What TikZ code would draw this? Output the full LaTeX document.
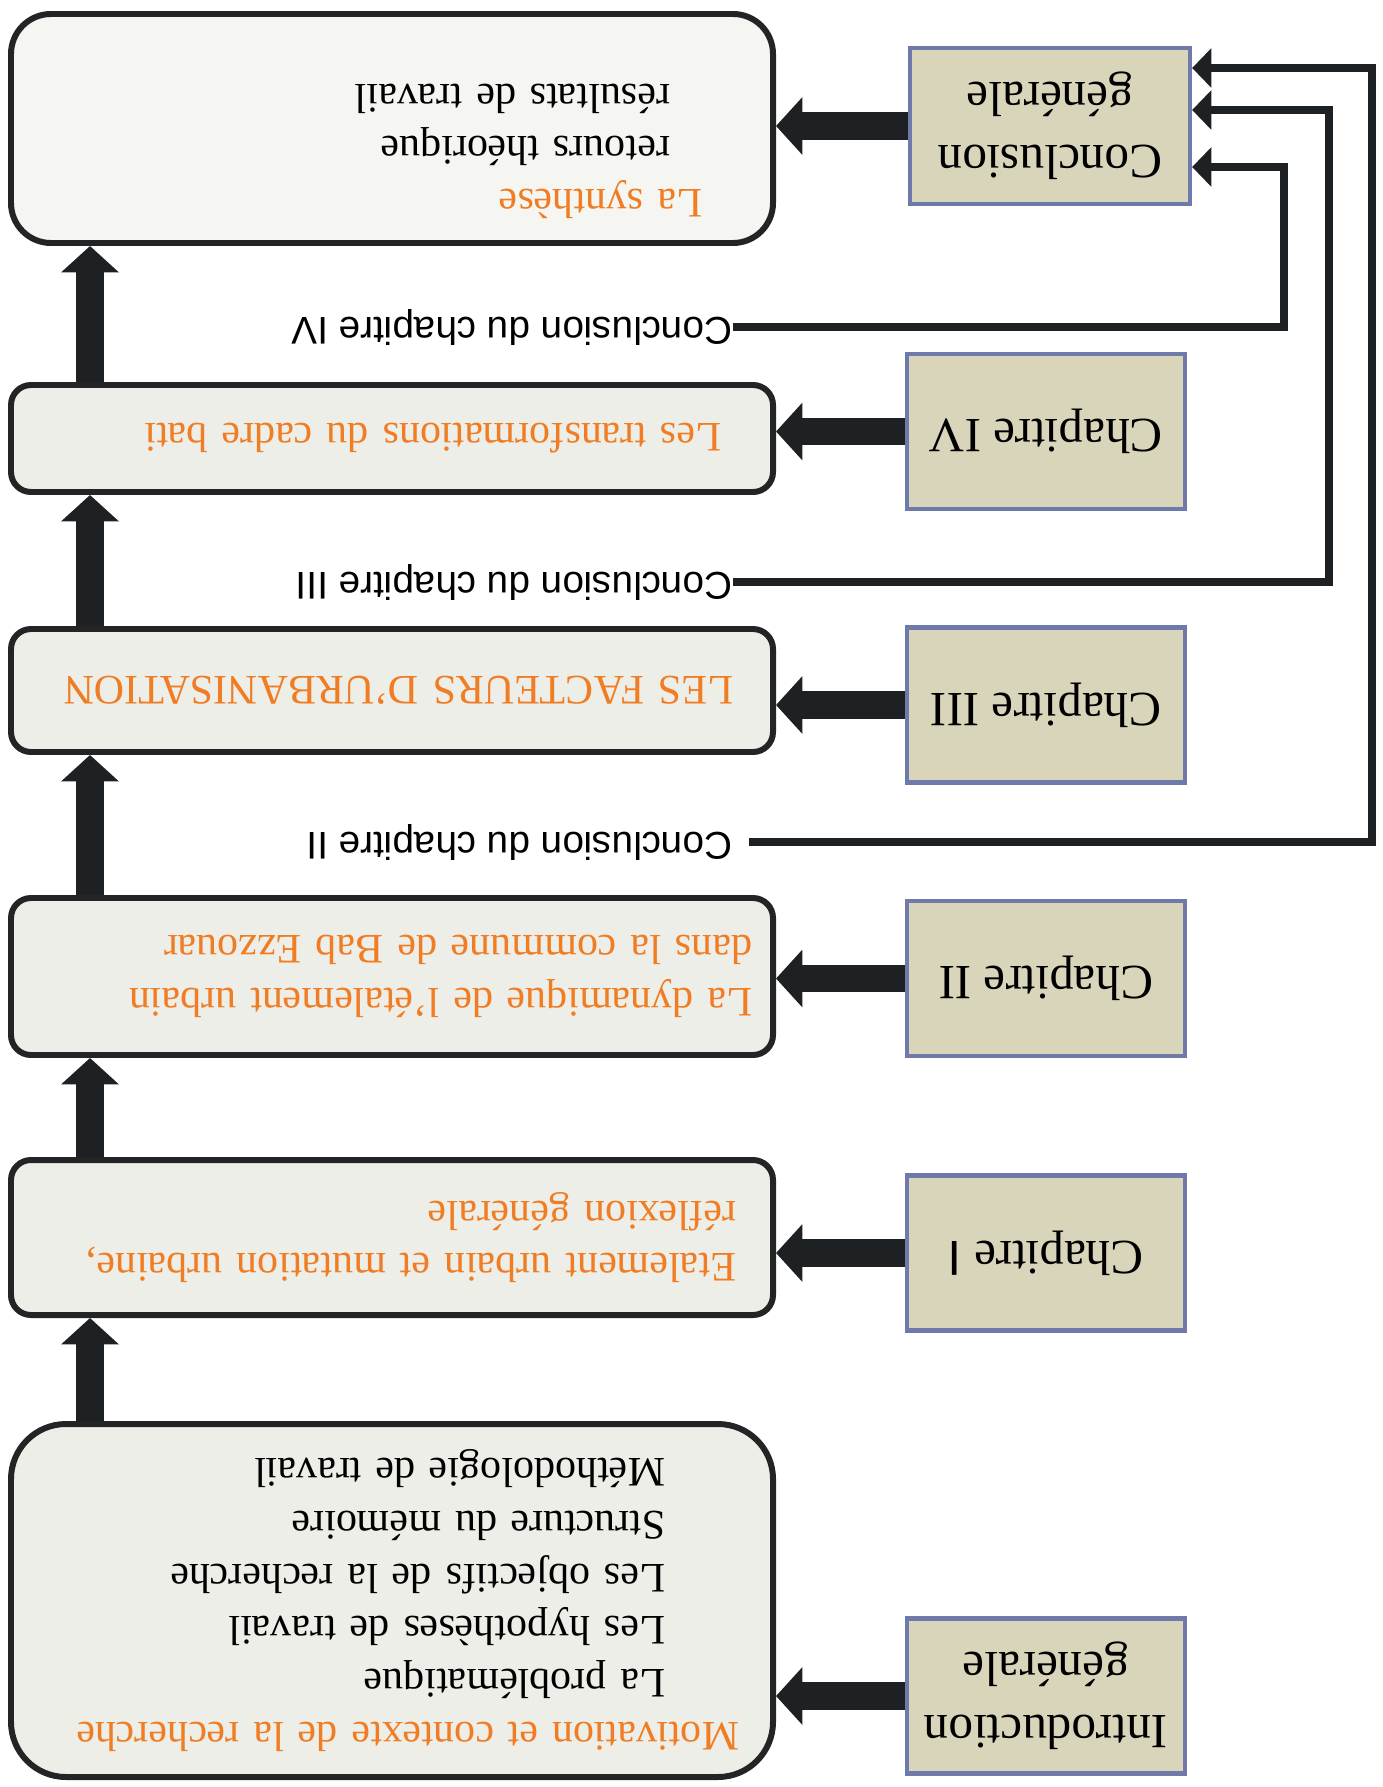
\documentclass[tikz,border=0pt]{standalone}
\usepackage{fontspec}
\setmainfont{Liberation Serif}
\setsansfont{Liberation Sans}
\usepackage{tikz}
\usepackage{xcolor}
\usetikzlibrary{arrows.meta, positioning}

\definecolor{txtorange}{RGB}{240,125,35}
\definecolor{boxgrey}{RGB}{238,238,233}
\definecolor{boxline}{RGB}{34,36,38}
\definecolor{chapfill}{RGB}{216,213,186}
\definecolor{chapline}{RGB}{112,122,170}
\definecolor{arrowdark}{RGB}{30,33,36}

\newcommand{\leftboxfont}{\fontsize{11.95}{15}\selectfont}
\newcommand{\chapfont}{\fontsize{14}{18}\selectfont}
\newcommand{\labfont}{\sffamily\fontsize{11}{13}\selectfont}

\tikzset{
    leftbox/.style={draw=boxline, line width=1.7pt, fill=boxgrey, rounded corners=0.2cm,
        text width=7.2cm, inner xsep=0.21cm, align=left, font=\leftboxfont},
    chapbox/.style={draw=chapline, line width=1.2pt, fill=chapfill, minimum width=2.78cm,
        minimum height=1.55cm, align=center, font=\chapfont},
    biglink/.style={draw=arrowdark, line width=7.8pt, -{Triangle[length=7.5pt,width=16pt]}},
    fbline/.style={draw=arrowdark, line width=2.2pt, -{Triangle[length=5.5pt,width=11pt]}},
    conclab/.style={inner sep=0pt, anchor=west, font=\labfont},
}

\begin{document}
\begin{tikzpicture}

        \begin{scope}[shift={(13.82,0)}, rotate=180, transform shape]
            \useasboundingbox (0,0) rectangle (13.82,17.87);

            % chapters
            \node[chapbox] (intro) at (3.36,16.96) {Introduction\\g\'en\'erale};
            \node[chapbox] (ch1) at (3.36,12.53) {Chapitre {\sffamily I}};
            \node[chapbox] (ch2) at (3.36,9.785) {Chapitre II};
            \node[chapbox] (ch3) at (3.36,7.05) {Chapitre III};
            \node[chapbox] (ch4) at (3.36,4.315) {Chapitre IV};
            \node[chapbox, minimum width=2.8cm, minimum height=1.56cm] (concl) at (3.32,1.26) {Conclusion\\g\'en\'erale};

            % contents
            \node[leftbox, rounded corners=0.55cm, minimum height=3.53cm] (motiv) at (9.9,16.005) {%
                \hspace*{0.13cm}\textcolor{txtorange}{Motivation et contexte de la recherche}\\
                \hspace*{0.87cm}La probl\'ematique\\
                \hspace*{0.87cm}Les hypoth\`eses de travail\\
                \hspace*{0.87cm}Les objectifs de la recherche\\
                \hspace*{0.87cm}Structure du m\'emoire\\
                \hspace*{0.87cm}M\'ethodologie de travail};
            \node[leftbox, minimum height=1.55cm, text=txtorange] (etal) at (9.9,12.375) {%
                \hspace*{0.16cm}Etalement urbain et mutation urbaine,\\
                \hspace*{0.16cm}r\'eflexion g\'en\'erale};
            \node[leftbox, minimum height=1.57cm, text=txtorange] (dyn) at (9.9,9.765) {%
                La dynamique de l'\'etalement urbain\\
                dans la commune de Bab Ezzouar};
            \node[leftbox, minimum height=1.23cm, text=txtorange] (fact) at (9.9,6.905) {%
                \hspace*{0.19cm}LES FACTEURS D’URBANISATION};
            \node[leftbox, minimum height=1.07cm, text=txtorange] (trans) at (9.9,4.385) {%
                \hspace*{0.31cm}Les transformations du cadre bati};
            \node[leftbox, rounded corners=0.4cm, minimum height=2.29cm, fill=boxgrey!60!white] (synth) at (9.9,1.285) {%
                \hspace*{0.5cm}\textcolor{txtorange}{La synth\`ese}\\
                \hspace*{0.82cm}retours th\'eorique\\
                \hspace*{0.82cm}r\'esultats de travail\\[-0.07cm]
                \mbox{}};

            % chapter conclusions
            \node[conclab] (lab2) at (6.49,8.42) {Conclusion du chapitre II};
            \node[conclab] (lab3) at (6.49,5.82) {Conclusion du chapitre III};
            \node[conclab] (lab4) at (6.49,3.27) {Conclusion du chapitre IV};

            \coordinate (spine) at (12.92,0);
            \coordinate (fb2) at (0.10,0.68);
            \coordinate (fb3) at (0.53,1.10);
            \coordinate (fb4) at (0.98,1.67);

            \draw[biglink] (intro.east) -- (intro.east -| motiv.west);
            \draw[biglink] (ch1.east) -- (ch1.east -| etal.west);
            \draw[biglink] (ch2.east) -- (ch2.east -| dyn.west);
            \draw[biglink] (ch3.east) -- (ch3.east -| fact.west);
            \draw[biglink] (ch4.east) -- (ch4.east -| trans.west);
            \draw[biglink] (concl.east) -- (concl.east -| synth.west);

            \draw[biglink] (motiv.south -| spine) -- (etal.north -| spine);
            \draw[biglink] (etal.south -| spine) -- (dyn.north -| spine);
            \draw[biglink] (dyn.south -| spine) -- (fact.north -| spine);
            \draw[biglink] (fact.south -| spine) -- (trans.north -| spine);
            \draw[biglink] (trans.south -| spine) -- (synth.north -| spine);

            \draw[fbline] ([xshift=-0.16cm]lab2.west) -| (fb2) -- (fb2 -| concl.west);
            \draw[fbline] (lab3.west) -| (fb3) -- (fb3 -| concl.west);
            \draw[fbline] (lab4.west) -| (fb4) -- (fb4 -| concl.west);
        \end{scope}

        \end{tikzpicture}
\end{document}
